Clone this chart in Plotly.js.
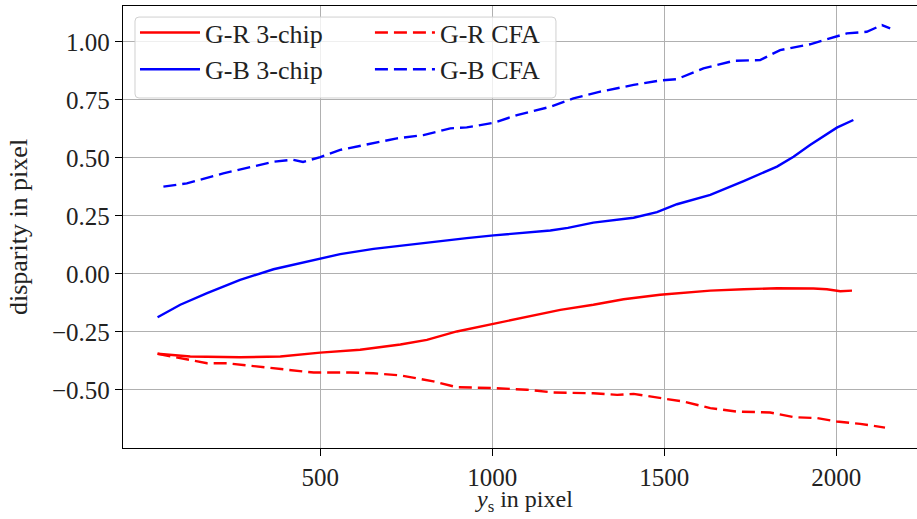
<!DOCTYPE html>
<html>
<head>
<meta charset="utf-8">
<script src="https://cdn.plot.ly/plotly-3.0.1.min.js"></script>
<style>html,body{margin:0;padding:0;background:#fff;overflow:hidden;}</style>
</head>
<body>
<div id="chart" style="width:917px;height:519px;"></div>
<script>
// ---- data ----
const grChipX = [27, 122, 267, 384, 500, 616, 733, 810, 897, 1004, 1120, 1198, 1294, 1382, 1488, 1634, 1731, 1828, 1934, 1973, 2012, 2046];
const grChipY = [-0.344, -0.356, -0.359, -0.356, -0.339, -0.327, -0.304, -0.284, -0.248, -0.215, -0.181, -0.155, -0.133, -0.109, -0.090, -0.072, -0.066, -0.062, -0.063, -0.066, -0.075, -0.072];

const gbChipX = [27, 93, 171, 267, 364, 500, 558, 655, 733, 829, 926, 1004, 1101, 1169, 1220, 1294, 1411, 1479, 1537, 1634, 1731, 1828, 1876, 1924, 2002, 2050];
const gbChipY = [-0.187, -0.133, -0.083, -0.026, 0.020, 0.067, 0.085, 0.108, 0.122, 0.139, 0.154, 0.166, 0.178, 0.187, 0.198, 0.221, 0.242, 0.266, 0.300, 0.340, 0.400, 0.462, 0.505, 0.555, 0.630, 0.663];

const grCfaX = [27, 122, 171, 229, 345, 413, 481, 587, 655, 733, 829, 897, 1004, 1101, 1178, 1294, 1363, 1411, 1488, 1556, 1634, 1711, 1808, 1876, 1944, 2002, 2070, 2142];
const grCfaY = [-0.344, -0.370, -0.385, -0.385, -0.402, -0.413, -0.425, -0.425, -0.428, -0.437, -0.463, -0.488, -0.492, -0.499, -0.511, -0.514, -0.521, -0.517, -0.536, -0.550, -0.578, -0.593, -0.597, -0.617, -0.621, -0.636, -0.646, -0.662];

const gbCfaX = [44, 112, 218, 364, 420, 450, 500, 558, 723, 800, 878, 926, 1004, 1072, 1169, 1236, 1314, 1411, 1488, 1537, 1614, 1702, 1779, 1837, 1924, 1992, 2031, 2089, 2133, 2157];
const gbCfaY = [0.376, 0.390, 0.433, 0.483, 0.492, 0.482, 0.503, 0.534, 0.584, 0.598, 0.627, 0.631, 0.651, 0.684, 0.720, 0.756, 0.785, 0.814, 0.833, 0.839, 0.885, 0.918, 0.921, 0.964, 0.989, 1.019, 1.036, 1.043, 1.072, 1.058];

const seriesNames = ["G-R 3-chip", "G-B 3-chip", "G-R CFA", "G-B CFA"];
const xTicks = [500, 1000, 1500, 2000];
const yTicks = [-0.5, -0.25, 0, 0.25, 0.5, 0.75, 1.0];
const xTitle = "<i>y</i><sub>s</sub> in pixel";
const yTitle = "disparity in pixel";

// ---- styling ----
const FONT = "Liberation Serif, Times New Roman, serif";
const FS = 26;      // legend / y title
const TFS = 25;     // tick labels
const XFS = 24;     // x title
const RED = "#ff0000", BLUE = "#0000ff";
const DASH = "13px,6px";
const LW = 2.4;

const traces = [
  {x: grChipX, y: grChipY, name: seriesNames[0], mode: "lines", line: {color: RED, width: LW}, legend: "legend", legendgroup: "a"},
  {x: gbChipX, y: gbChipY, name: seriesNames[1], mode: "lines", line: {color: BLUE, width: LW}, legend: "legend", legendgroup: "b"},
  {x: grCfaX, y: grCfaY, name: seriesNames[2], mode: "lines", line: {color: RED, width: LW, dash: DASH}, legend: "legend2", legendgroup: "c"},
  {x: gbCfaX, y: gbCfaY, name: seriesNames[3], mode: "lines", line: {color: BLUE, width: LW, dash: DASH}, legend: "legend2", legendgroup: "d"}
];

// legend frame (paper coordinates), rounded corners
const bx0 = 0.0151, bx1 = 0.5453, by0 = 0.7919, by1 = 0.975;
const rx = 4 / 794, ry = 4 / 442;
const framePath =
  `M${bx0 + rx},${by1} L${bx1 - rx},${by1} Q${bx1},${by1} ${bx1},${by1 - ry} ` +
  `L${bx1},${by0 + ry} Q${bx1},${by0} ${bx1 - rx},${by0} ` +
  `L${bx0 + rx},${by0} Q${bx0},${by0} ${bx0},${by0 + ry} ` +
  `L${bx0},${by1 - ry} Q${bx0},${by1} ${bx0 + rx},${by1} Z`;

const legendBase = {
  orientation: "v", yanchor: "top", xanchor: "left", y: 0.993,
  bgcolor: "rgba(0,0,0,0)", borderwidth: 0, itemwidth: 60, tracegroupgap: 3,
  font: {family: FONT, size: FS, color: "#222"}, traceorder: "normal"
};

const layout = {
  width: 917, height: 519,
  margin: {l: 123, r: 0, t: 6, b: 71, pad: 0},
  paper_bgcolor: "#fff", plot_bgcolor: "#fff",
  font: {family: FONT, size: FS, color: "#222"},
  showlegend: true,
  legend: Object.assign({}, legendBase, {x: 0.0151}),
  legend2: Object.assign({}, legendBase, {x: 0.311}),
  shapes: [{
    type: "path", xref: "paper", yref: "paper", path: framePath, layer: "above",
    fillcolor: "rgba(255,255,255,0.8)", line: {color: "#d0d0d0", width: 1}
  }],
  annotations: [{
    text: xTitle, xref: "paper", yref: "paper", x: 0.505, y: -0.121,
    xanchor: "center", yanchor: "middle", showarrow: false, borderpad: 0,
    font: {family: FONT, size: XFS, color: "#222"}
  }],
  xaxis: {
    range: [-73.5, 2235], tickvals: xTicks, ticktext: xTicks.map(String),
    ticks: "outside", ticklen: 7, tickwidth: 1, tickcolor: "#000",
    showline: true, linecolor: "#000", linewidth: 1.2, mirror: true,
    showgrid: true, gridcolor: "#b0b0b0", gridwidth: 1, zeroline: false,
    tickfont: {family: FONT, size: TFS, color: "#222"},
    automargin: false
  },
  yaxis: {
    range: [-0.75, 1.154], tickvals: yTicks, tickformat: ".2f",
    ticks: "outside", ticklen: 7, tickwidth: 1, tickcolor: "#000",
    showline: true, linecolor: "#000", linewidth: 1.2, mirror: false,
    showgrid: true, gridcolor: "#b0b0b0", gridwidth: 1, zeroline: false,
    tickfont: {family: FONT, size: TFS, color: "#222"},
    title: {text: yTitle, font: {family: FONT, size: FS, color: "#222"}, standoff: 16},
    automargin: false
  }
};

Plotly.newPlot("chart", traces, layout, {displayModeBar: false, staticPlot: true});
</script>
</body>
</html>
